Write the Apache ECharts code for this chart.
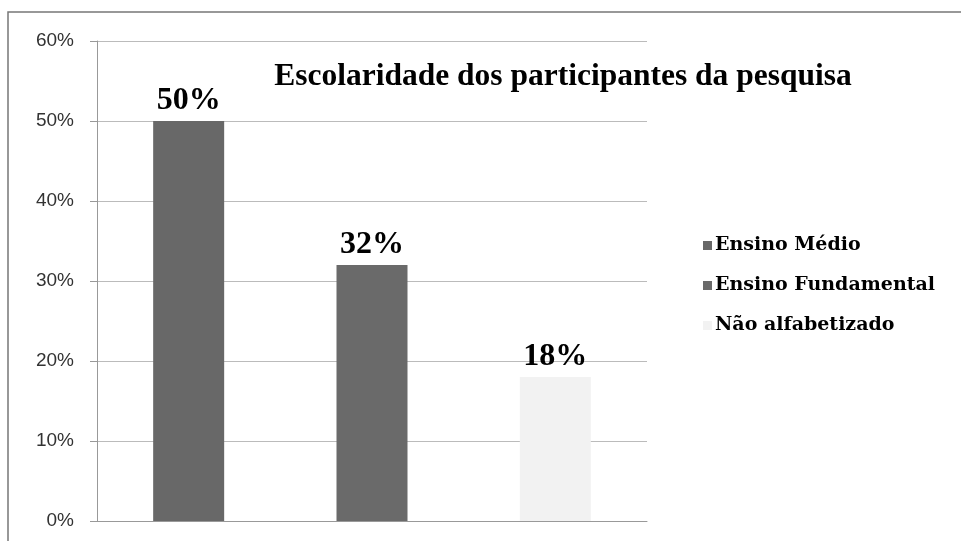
<!DOCTYPE html>
<html><head><meta charset="utf-8">
<script src="https://cdn.jsdelivr.net/npm/echarts@6/dist/echarts.min.js"></script>
<style>html,body{margin:0;padding:0;background:#fff}#c{width:961px;height:541px}</style>
</head><body><div id="c"></div>
<script>
const categories = ['Ensino Médio', 'Ensino Fundamental', 'Não alfabetizado'];
const values = [50, 32, 18];
const colors = ['#686868', '#6a6a6a', '#f2f2f2'];
const yTicks = [0, 10, 20, 30, 40, 50, 60];
const titleText = 'Escolaridade dos participantes da pesquisa';

const chart = echarts.init(document.getElementById('c'));
const series = categories.map((name, i) => ({
  name: name,
  type: 'bar',
  stack: 'all',
  barWidth: 71,
  itemStyle: { color: colors[i] },
  data: categories.map((c, j) => j === i ? values[i] : '-'),
  label: {
    show: true, position: 'top', distance: 4,
    formatter: '{c}%',
    fontFamily: 'Liberation Serif', fontWeight: 'bold', fontSize: 32, color: '#000'
  }
}));
chart.setOption({
  animation: false,
  title: {
    text: titleText, left: 558, top: 56, textAlign: 'center',
    textStyle: { fontFamily: 'Liberation Serif', fontWeight: 'bold', fontSize: 31.5, color: '#000' }
  },
  legend: {
    orient: 'vertical', left: 698, top: 231, itemWidth: 9, itemHeight: 9, itemGap: 21,
    icon: 'rect',
    data: categories,
    textStyle: { fontFamily: 'DejaVu Serif', fontWeight: 'bold', fontSize: 19, color: '#000', padding: [0,0,0,-2] }
  },
  graphic: [{ type: 'rect', shape: { x: 8, y: 12, width: 1000, height: 600 }, style: { fill: 'none', stroke: '#777', lineWidth: 1.5 }, silent: true }],
  grid: { left: 97, right: 314, top: 41, bottom: 20, containLabel: false },
  xAxis: {
    type: 'category', data: categories,
    axisLine: { lineStyle: { color: '#999' } }, axisTick: { show: false }, axisLabel: { show: false }
  },
  yAxis: {
    type: 'value', min: yTicks[0], max: yTicks[yTicks.length - 1], interval: 10,
    axisLine: { show: true, lineStyle: { color: '#999' } },
    axisTick: { show: true, length: 7, lineStyle: { color: '#999' } },
    splitLine: { lineStyle: { color: '#bbb' } },
    axisLabel: { formatter: '{value}%', fontFamily: 'Liberation Sans', fontSize: 19, color: '#333', margin: 23 }
  },
  series: series
});
</script></body></html>
